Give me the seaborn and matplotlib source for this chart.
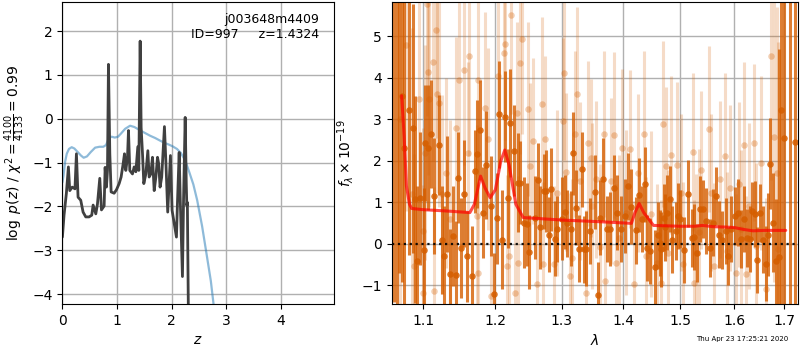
import matplotlib
matplotlib.use("Agg")
import matplotlib.pyplot as plt
import pandas as pd
import seaborn as sns
from matplotlib.ticker import FixedLocator, ScalarFormatter, NullLocator

# --- left panel: log p(z) ---
z_fit = [0.0, 0.03, 0.073, 0.11, 0.135, 0.18, 0.23, 0.257, 0.287, 0.336, 0.379, 0.428,
         0.489, 0.538, 0.563, 0.612, 0.642, 0.685, 0.716, 0.765, 0.783, 0.807, 0.826,
         0.844, 0.869, 0.893, 0.948, 0.991, 1.04, 1.076, 1.113, 1.138, 1.162, 1.193,
         1.211, 1.235, 1.284, 1.315, 1.346, 1.382, 1.40, 1.425, 1.443, 1.468, 1.492,
         1.529, 1.566, 1.590, 1.621, 1.651, 1.682, 1.713, 1.743, 1.765, 1.79, 1.82,
         1.87, 1.90, 1.93, 1.98, 2.01, 2.04, 2.09, 2.11, 2.14, 2.16, 2.20, 2.22, 2.25,
         2.27, 2.28, 2.29, 2.31, 2.33]
logp_fit = [-2.70, -2.20, -1.70, -1.10, -1.64, -1.56, -1.60, -0.80, -1.79, -1.86, -2.13,
            -2.24, -2.24, -2.20, -1.97, -2.17, -1.95, -1.36, -2.08, -1.99, -1.11, -1.56,
            -1.18, 1.24, -0.80, -1.67, -1.70, -1.62, -1.48, -1.33, -1.03, -0.80, -1.18,
            -0.88, -0.27, -1.18, -1.26, -1.10, -1.21, -0.64, -1.18, 1.77, -0.20, -0.80,
            -1.48, -1.26, -0.73, -1.33, -1.26, -0.88, -1.64, -1.33, -0.88, -1.03, -1.56,
            -1.33, -0.18, -1.10, -2.13, -0.84, -2.09, -2.32, -2.70, -1.86, -0.77, -1.86,
            -3.60, -1.86, 0.03, -1.48, -1.98, -1.91, -4.60, -6.00]
z_prior = [0.0, 0.02, 0.05, 0.08, 0.12, 0.17, 0.22, 0.28, 0.34, 0.39, 0.45, 0.52, 0.60,
           0.68, 0.75, 0.80, 0.85, 0.90, 0.96, 1.02, 1.08, 1.15, 1.24, 1.32, 1.43, 1.52,
           1.61, 1.70, 1.79, 1.87, 1.95, 2.02, 2.10, 2.17, 2.25, 2.32, 2.40, 2.47, 2.56,
           2.65, 2.72, 2.77, 2.85]
logp_prior = [-1.45, -1.30, -0.98, -0.80, -0.69, -0.65, -0.68, -0.76, -0.84, -0.89, -0.86,
              -0.76, -0.66, -0.64, -0.64, -0.60, -0.45, -0.41, -0.43, -0.41, -0.33, -0.23,
              -0.16, -0.19, -0.27, -0.33, -0.39, -0.44, -0.50, -0.55, -0.59, -0.63, -0.69,
              -0.78, -0.95, -1.20, -1.50, -1.86, -2.45, -3.15, -3.70, -4.23, -4.90]

# --- right panel: spectrum ---
wave_a = [1.0615, 1.0655, 1.0690, 1.0718, 1.0752, 1.0816, 1.0860, 1.0890, 1.0916, 1.0956,
          1.1005, 1.1027, 1.1067, 1.1103, 1.1148, 1.1213, 1.1250, 1.1281, 1.1327, 1.1364,
          1.1401, 1.1442, 1.1470, 1.1515, 1.1557, 1.1595, 1.1669, 1.1707, 1.1735, 1.1782,
          1.1816, 1.1867, 1.1935, 1.1982, 1.2021, 1.2055, 1.2094, 1.2142, 1.2186, 1.2215,
          1.2270, 1.2325, 1.2363, 1.2414, 1.2464, 1.2498, 1.2584, 1.2635, 1.2671, 1.2722,
          1.2763, 1.2803, 1.2840, 1.2891, 1.2918, 1.2996, 1.3048, 1.3084, 1.3138, 1.3179,
          1.3233, 1.3274, 1.3322, 1.3354, 1.3392, 1.3446, 1.3528, 1.3582, 1.3621, 1.3664,
          1.3730, 1.3774, 1.3841, 1.3896, 1.3970, 1.4026, 1.4082, 1.4139, 1.4213, 1.4270,
          1.4328, 1.4368, 1.4408, 1.4467, 1.4542, 1.4600, 1.4630, 1.4660, 1.4700, 1.4725,
          1.4760, 1.4807, 1.4856, 1.4915, 1.4957, 1.5000, 1.5060, 1.5139, 1.5201, 1.5249,
          1.5303, 1.5352, 1.5413, 1.5475, 1.5538, 1.5600, 1.5663, 1.5712, 1.5776, 1.5839,
          1.5890, 1.5947, 1.6011, 1.6075, 1.6126, 1.6185, 1.6250, 1.6306, 1.6359, 1.6405,
          1.6450, 1.6504, 1.6569, 1.6623, 1.6669, 1.6703, 1.6770, 1.6824, 1.6885, 1.6926,
          1.6988, 1.7110, 1.7214]
flux_a = [6.60, -1.90, 6.30, 3.57, 2.32, 3.22, 2.78, 1.07, -0.42, 1.09,
          -0.15, 2.44, 2.32, 2.64, 1.15, 2.38, 0.09, -0.30, 1.21, -0.74,
          0.18, -0.75, 1.59, -0.11, 1.21, -0.30, -0.78, 1.75, 2.16, 2.74,
          0.75, 1.90, 0.91, -1.22, 0.61, 3.12, 0.10, 3.06, 1.09, 2.91,
          2.24, 1.47, 1.47, 0.51, 0.47, -0.20, 0.63, 1.53, 0.39, 1.26,
          1.27, 0.22, 1.31, 0.12, 0.35, 0.60, 0.76, 0.49, 0.36, 2.18,
          0.87, -0.12, 1.79, -0.14, -0.12, 0.30, 1.25, -1.25, 0.63, 1.55,
          0.36, 0.35, 1.35, 0.75, 0.36, 0.67, 1.38, 0.89, 0.32, 1.17,
          0.59, 1.43, -0.10, -0.18, -0.56, 0.20, 0.02, -0.14, 0.63, 0.39,
          0.75, 1.07, 0.10, 0.30, 0.67, 0.59, -0.15, 1.21, 0.14, 0.16,
          -0.23, 0.83, 0.83, 0.55, -0.10, 0.51, 1.14, 0.22, 0.10, 0.30,
          -0.30, 0.35, 0.67, 0.75, 0.12, 0.59, 0.14, 0.12, 0.79, 0.71,
          -0.40, 0.75, 0.10, -0.48, 0.22, 1.93, 0.51, -0.43, -0.31, 3.22,
          2.56, 6.50, 2.46]
err_a = [8.0, 8.0, 7.0, 4.5, 4.0, 3.5, 3.0, 2.5, 1.8, 1.6,
         1.5, 1.4, 1.5, 1.3, 1.4, 1.2, 1.3, 1.2, 1.4, 1.1,
         1.2, 1.3, 1.1, 1.2, 1.3, 1.1, 1.2, 1.0, 1.3, 1.2,
         1.1, 1.3, 1.2, 1.0, 1.1, 1.3, 1.2, 1.1, 1.2, 1.3,
         1.1, 1.2, 1.0, 1.1, 1.0, 0.9, 1.0, 0.9, 1.0, 0.9,
         1.0, 0.9, 1.0, 0.9, 0.8, 1.0, 0.9, 0.8, 0.9, 1.0,
         0.9, 0.8, 0.9, 0.8, 0.9, 0.8, 0.9, 0.8, 0.9, 1.0,
         0.8, 0.9, 0.8, 0.9, 0.8, 0.9, 0.8, 0.9, 0.8, 0.9,
         0.8, 0.9, 0.8, 0.8, 0.9, 0.8, 0.8, 0.9, 0.8, 0.8,
         0.9, 0.8, 0.8, 0.7, 0.8, 0.7, 0.8, 0.8, 0.7, 0.8,
         0.7, 0.8, 0.7, 0.8, 0.7, 0.8, 0.7, 0.8, 0.7, 0.8,
         0.7, 0.8, 0.7, 0.8, 0.7, 0.8, 0.7, 0.8, 0.7, 0.8,
         0.8, 0.7, 0.8, 0.9, 1.0, 1.1, 1.2, 1.5, 5.0, 5.0,
         5.0, 8.0, 6.0]

wave_b = [1.0700, 1.0780, 1.0850, 1.0881, 1.0939, 1.0992, 1.1000, 1.1030, 1.1045, 1.1058,
          1.1080, 1.1125, 1.1147, 1.1169, 1.1191, 1.1213, 1.1258, 1.1303, 1.1360, 1.1442,
          1.1488, 1.1557, 1.1604, 1.1627, 1.1731, 1.1745, 1.1754, 1.1854, 1.1888, 1.1935,
          1.2041, 1.2129, 1.2139, 1.2168, 1.2201, 1.2226, 1.2285, 1.2314, 1.2339, 1.2363,
          1.2399, 1.2480, 1.2510, 1.2559, 1.2611, 1.2696, 1.2711, 1.2737, 1.2880, 1.2930,
          1.3021, 1.3040, 1.3063, 1.3127, 1.3165, 1.3206, 1.3245, 1.3285, 1.3380, 1.3418,
          1.3460, 1.3490, 1.3555, 1.3610, 1.3680, 1.3700, 1.3790, 1.3846, 1.3880, 1.3925,
          1.3985, 1.4054, 1.4110, 1.4183, 1.4251, 1.4353, 1.4394, 1.4481, 1.4590, 1.4645,
          1.4688, 1.4735, 1.4770, 1.4830, 1.4940, 1.5017, 1.5047, 1.5220, 1.5240, 1.5280,
          1.5330, 1.5383, 1.5526, 1.5560, 1.5620, 1.5727, 1.5823, 1.5865, 1.5930, 1.6045,
          1.6100, 1.6140, 1.6194, 1.6225, 1.6290, 1.6390, 1.6430, 1.6520, 1.6638, 1.6737,
          1.6785, 1.6850, 1.6880]
flux_b = [3.00, 4.80, 1.20, -0.54, 3.49, -1.18, 0.30, 2.20, 5.78, 4.15,
          3.49, 4.39, -1.14, 5.15, 3.62, 3.39, 1.19, 1.71, 0.59, 2.78,
          3.95, 4.19, 2.18, 4.52, 0.67, 3.95, -0.70, 3.28, 2.52, -1.27,
          4.05, 4.59, 4.81, -0.54, -0.30, 5.52, -1.18, 3.15, -0.46, 4.36,
          4.94, 3.26, 1.88, 2.48, -0.98, 3.38, -0.50, 2.52, -0.50, 1.23,
          2.96, 4.13, 1.73, -0.77, -0.34, 2.64, 3.62, 1.51, -1.18, 2.42,
          2.07, 0.91, 1.55, -0.08, 2.64, -0.90, 1.51, 2.63, -0.46, 0.14,
          2.32, 0.75, 2.28, -0.98, 1.71, 2.65, -0.30, 0.71, -0.46, -0.94,
          2.89, 1.88, -0.22, 2.14, 1.90, 1.23, -0.50, 2.21, -0.94, -0.22,
          0.28, 1.78, 2.76, 1.23, -0.54, 1.55, 2.12, -0.18, 1.35, -0.70,
          1.43, 0.35, 2.38, -0.74, 0.91, 2.44, -0.06, 1.95, -1.10, 4.53,
          2.58, 1.71, -0.14]
err_b = [5.0, 4.0, 4.0, 2.7, 2.7, 2.6, 2.5, 2.6, 2.7, 2.5,
         2.6, 2.4, 2.5, 2.6, 2.4, 2.5, 2.4, 2.3, 2.4, 2.2,
         2.4, 2.3, 2.2, 2.4, 2.2, 2.3, 2.2, 2.3, 2.2, 2.2,
         2.3, 2.4, 2.3, 2.2, 2.2, 2.4, 2.2, 2.2, 2.1, 2.2,
         2.3, 2.1, 2.0, 2.0, 2.0, 2.1, 2.0, 2.0, 1.9, 2.0,
         2.0, 2.1, 1.9, 2.0, 1.9, 2.0, 2.1, 1.9, 2.0, 2.0,
         1.9, 2.0, 1.9, 2.0, 2.0, 1.9, 2.0, 2.0, 1.9, 2.0,
         1.9, 2.0, 1.9, 2.0, 1.9, 2.0, 1.9, 2.0, 1.9, 2.0,
         2.0, 1.9, 2.0, 1.9, 2.0, 1.9, 2.0, 1.9, 2.0, 1.9,
         2.0, 1.9, 2.0, 1.9, 2.0, 1.9, 2.0, 1.9, 2.0, 1.9,
         2.0, 1.9, 2.0, 1.9, 2.0, 1.9, 2.0, 2.1, 2.2, 3.0,
         3.5, 4.0, 5.0]

wave_model = [1.0718, 1.0750, 1.0780, 1.0820, 1.0847, 1.1000, 1.1300, 1.1637, 1.1700,
              1.1788, 1.1850, 1.1925, 1.2000, 1.2080, 1.2138, 1.2200, 1.2300, 1.2410,
              1.3000, 1.3600, 1.4139, 1.4200, 1.4271, 1.4350, 1.4520, 1.5000, 1.5256,
              1.5400, 1.5600, 1.5850, 1.6000, 1.6200, 1.6370, 1.6600, 1.7030]
flux_model = [3.57, 2.60, 1.39, 0.95, 0.85, 0.82, 0.79, 0.75, 0.95,
              1.63, 1.35, 1.11, 1.30, 2.00, 2.26, 1.90, 0.95, 0.63,
              0.57, 0.53, 0.49, 0.75, 0.97, 0.75, 0.44, 0.42, 0.42,
              0.44, 0.41, 0.40, 0.39, 0.34, 0.31, 0.32, 0.32]

lam_ticks = [1.1, 1.2, 1.3, 1.4, 1.5, 1.6, 1.7]
grism_color = "#d55e00"

sns.set_style("ticks", {"axes.grid": True, "grid.color": "#b0b0b0",
                        "axes.edgecolor": "black", "xtick.color": "black",
                        "ytick.color": "black", "axes.labelcolor": "black",
                        "text.color": "black"})
plt.rcParams["font.size"] = 10

fig = plt.figure(figsize=(8, 3.5), dpi=100)
ax1 = fig.add_axes([0.078, 0.131, 0.339, 0.863])
ax2 = fig.add_axes([0.4896, 0.131, 0.5083, 0.863])

# p(z)
prior = pd.DataFrame({"z": z_prior, "logp": logp_prior})
fit = pd.DataFrame({"z": z_fit, "logp": logp_fit})
sns.lineplot(data=prior, x="z", y="logp", ax=ax1, color="tab:blue", alpha=0.5,
             lw=1.6, estimator=None, sort=False)
sns.lineplot(data=fit, x="z", y="logp", ax=ax1, color="0.25", lw=2,
             estimator=None, sort=False)
ax1.set_xlim(0, 4.97)
ax1.set_ylim(-4.23, 2.66)
ax1.set_xticks([0, 1, 2, 3, 4])
ax1.set_yticks([-4, -3, -2, -1, 0, 1, 2])
ax1.set_xlabel("$z$")
ax1.set_ylabel(r"$\log\ p(z)$ / $\chi^2=\frac{4100}{4133}=0.99$")
ax1.text(0.945, 0.965, "j003648m4409\nID=997     z=1.4324", transform=ax1.transAxes,
         ha="right", va="top", fontsize=9)

# spectrum
spec_b = pd.DataFrame({"wave": wave_b, "flux": flux_b, "err": err_b})
spec_a = pd.DataFrame({"wave": wave_a, "flux": flux_a, "err": err_a})
ax2.errorbar(spec_b["wave"], spec_b["flux"], yerr=spec_b["err"], fmt="none",
             ecolor=grism_color, alpha=0.22, elinewidth=2.2, zorder=1)
sns.scatterplot(data=spec_b, x="wave", y="flux", ax=ax2, color=grism_color,
                alpha=0.3, s=22, linewidth=0, zorder=1)
ax2.errorbar(spec_a["wave"], spec_a["flux"], yerr=spec_a["err"], fmt="none",
             ecolor=grism_color, alpha=0.8, elinewidth=2.2, zorder=2)
sns.scatterplot(data=spec_a, x="wave", y="flux", ax=ax2, color=grism_color,
                alpha=0.85, s=22, linewidth=0, zorder=2)
model = pd.DataFrame({"wave": wave_model, "flux": flux_model})
sns.lineplot(data=model, x="wave", y="flux", ax=ax2, color="red", alpha=0.7,
             lw=2.2, estimator=None, sort=False, zorder=3)
ax2.axhline(0, color="k", ls=":", lw=1.6, alpha=0.9, zorder=4)

ax2.set_xscale("log")
ax2.set_xlim(1.059, 1.729)
ax2.xaxis.set_major_locator(FixedLocator(lam_ticks))
ax2.xaxis.set_major_formatter(ScalarFormatter())
ax2.xaxis.set_minor_locator(NullLocator())
ax2.set_ylim(-1.46, 5.83)
ax2.set_yticks([-1, 0, 1, 2, 3, 4, 5])
ax2.set_xlabel(r"$\lambda$")
ax2.set_ylabel(r"$f_\lambda\times10^{-19}$")

for ax in (ax1, ax2):
    ax.set_axisbelow(True)
    ax.grid(True, color="#b0b0b0", lw=1)

fig.text(0.985, 0.031, "Thu Apr 23 17:25:21 2020", ha="right", va="center", fontsize=5)

fig.savefig("out.png", dpi=100)
